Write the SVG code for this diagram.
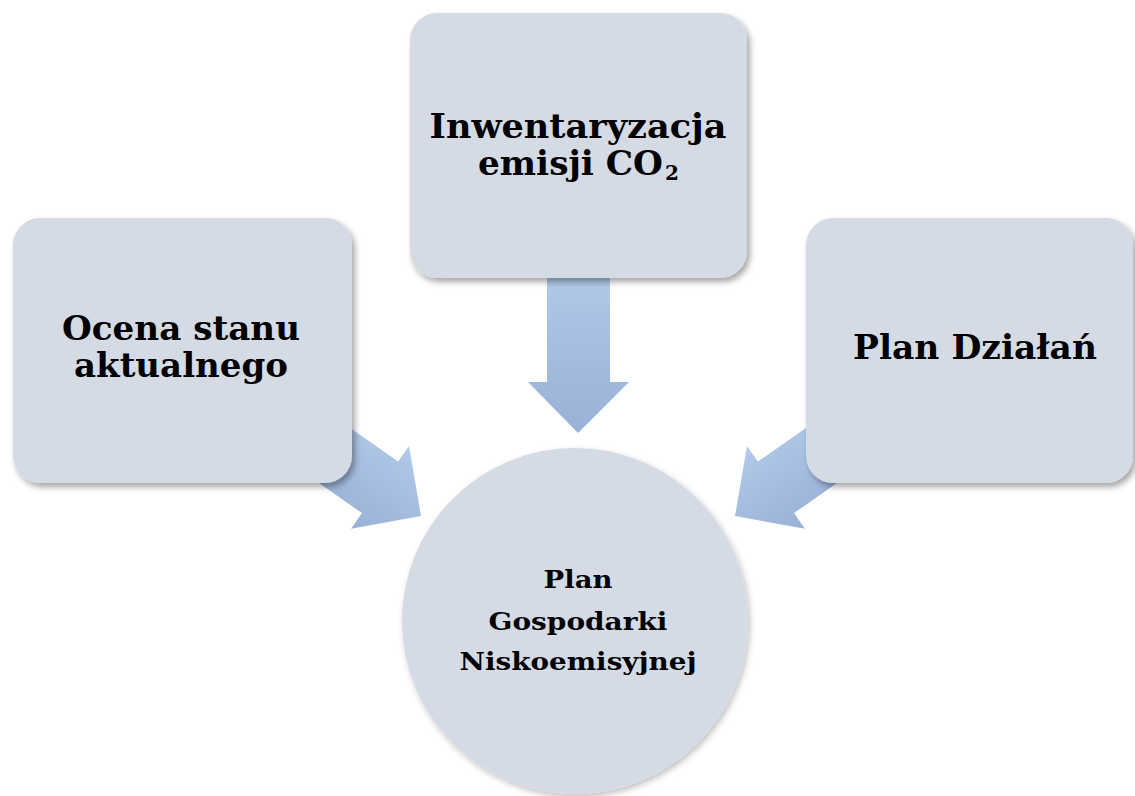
<svg xmlns="http://www.w3.org/2000/svg" width="1135" height="796" viewBox="0 0 1135 796">
<defs>
<style>
.box{fill:#d5dbe5;filter:url(#sh);}
.arrow{fill:url(#ag);}
.t{font-family:"DejaVu Serif","Liberation Serif",serif;font-weight:bold;fill:#000;text-anchor:middle;}
.big{font-size:34px;}
.small{font-size:24px;}
</style>
<linearGradient id="ag" x1="0" y1="0" x2="0" y2="1">
<stop offset="0" stop-color="#b2c9e8"/>
<stop offset="1" stop-color="#98b1d6"/>
</linearGradient>
<filter id="sh" x="-10%" y="-10%" width="125%" height="125%">
<feDropShadow dx="3" dy="4" stdDeviation="3" flood-color="#000" flood-opacity="0.35"/>
</filter>
<filter id="csh" x="-10%" y="-10%" width="125%" height="125%">
<feDropShadow dx="2" dy="3" stdDeviation="3" flood-color="#000" flood-opacity="0.25"/>
</filter>
</defs>
<rect width="1135" height="796" fill="#ffffff"/>
<g id="connectors">
<polygon class="arrow" points="547,270 610,270 610,382 629,382 578,433 528,382 547,382"/>
<g transform="translate(421,516) rotate(35)">
<polygon class="arrow" points="-200,-31.5 -50,-31.5 -50,-50.5 0,0 -50,50.5 -50,31.5 -200,31.5"/>
</g>
<g transform="translate(735,516) rotate(145)">
<polygon class="arrow" points="-200,-31.5 -50,-31.5 -50,-50.5 0,0 -50,50.5 -50,31.5 -200,31.5" transform="scale(1,-1)"/>
</g>
</g>
<g id="node-ocena">
<rect class="box" x="13" y="218" width="339" height="265" rx="27"/>
<text class="t big" x="181" y="340" textLength="238" lengthAdjust="spacingAndGlyphs">Ocena stanu</text>
<text class="t big" x="181" y="377" textLength="214" lengthAdjust="spacingAndGlyphs">aktualnego</text>
</g>
<g id="node-inwentaryzacja">
<rect class="box" x="410" y="13" width="337" height="265" rx="27"/>
<text class="t big" x="578" y="138" textLength="297" lengthAdjust="spacingAndGlyphs">Inwentaryzacja</text>
<text class="t big" x="478" y="175" style="text-anchor:start"><tspan textLength="185" lengthAdjust="spacingAndGlyphs">emisji CO</tspan><tspan x="665" dy="5" font-size="20">2</tspan></text>
</g>
<g id="node-plan-dzialan">
<rect class="box" x="806" y="218" width="327" height="265" rx="27"/>
<text class="t big" x="975" y="359" textLength="244" lengthAdjust="spacingAndGlyphs">Plan Działań</text>
</g>
<g id="node-plan-gospodarki">
<circle cx="575" cy="621" r="173" fill="#d5dbe5" filter="url(#csh)"/>
<text class="t small" x="578" y="588" textLength="69" lengthAdjust="spacingAndGlyphs">Plan</text>
<text class="t small" x="578" y="630" textLength="179" lengthAdjust="spacingAndGlyphs">Gospodarki</text>
<text class="t small" x="578" y="670" textLength="237" lengthAdjust="spacingAndGlyphs">Niskoemisyjnej</text>
</g>
</svg>
